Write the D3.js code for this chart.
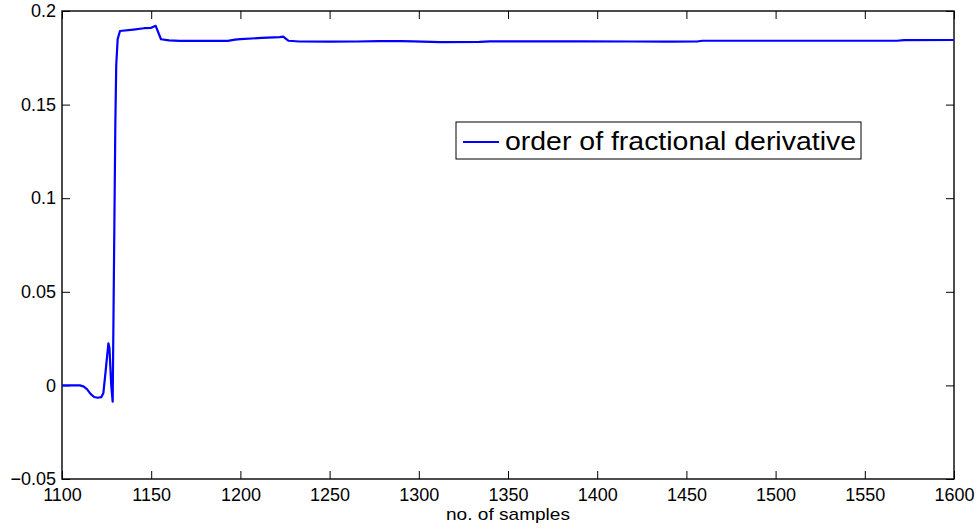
<!DOCTYPE html>
<html>
<head>
<meta charset="utf-8">
<script src="https://cdn.jsdelivr.net/npm/d3@7"></script>
<style>
  body { margin: 0; background: #fff; }
  svg text { font-family: "Liberation Sans", Arial, Helvetica, sans-serif; fill: #000; }
</style>
</head>
<body>
<div id="content"></div>
<script>
// sample index on the x axis, estimated order value on y
var samples = [1100, 1105, 1110, 1112, 1114, 1116, 1118, 1120, 1122, 1123.2, 1124.5, 1126.0, 1126.6, 1127.6, 1128.4,
  1129.9, 1130.4, 1131.2, 1132.5, 1140, 1146, 1150, 1152.5, 1155.5, 1160, 1166, 1193, 1197, 1200, 1212, 1222, 1224,
  1227, 1233, 1250, 1265, 1278, 1290, 1297, 1312, 1334, 1340, 1390, 1420, 1440, 1456, 1459, 1520, 1568, 1572, 1600];
var order = [0, 0, 0, -0.0005, -0.002, -0.0045, -0.0062, -0.0066, -0.0063, -0.004, 0.008, 0.0225, 0.02, 0.0, -0.0087,
  0.14, 0.171, 0.185, 0.1893, 0.1901, 0.1908, 0.1910, 0.1921, 0.1849, 0.1843, 0.1840, 0.1840, 0.1847, 0.1850, 0.1856, 0.1860, 0.1863,
  0.1841, 0.1837, 0.1836, 0.1837, 0.1839, 0.1839, 0.1838, 0.1834, 0.1835, 0.1838, 0.1838, 0.1837, 0.1836, 0.1837, 0.1841, 0.1841, 0.1841, 0.1844, 0.1845];

var xTicks = [1100, 1150, 1200, 1250, 1300, 1350, 1400, 1450, 1500, 1550, 1600];
var yTicks = [-0.05, 0, 0.05, 0.1, 0.15, 0.2];
var yTickLabels = ["\u22120.05", "0", "0.05", "0.1", "0.15", "0.2"];
var legendLabel = "order of fractional derivative";
var xLabel = "no. of samples";

var margin = {top: 11, right: 24, bottom: 51, left: 62};
var width = 978 - margin.left - margin.right;
var height = 530 - margin.top - margin.bottom;

var svg = d3.select("#content").append("svg")
  .attr("width", 978).attr("height", 530)
  .append("g")
  .attr("transform", "translate(" + margin.left + "," + margin.top + ")");

var x = d3.scaleLinear().domain([1100, 1600]).range([0, width]);
var y = d3.scaleLinear().domain([-0.05, 0.2]).range([height, 0]);

// axes, ticks pointing inward on all four sides
function styleAxis(g) {
  g.select(".domain").remove();
  g.selectAll(".tick line").attr("stroke", "#000").attr("stroke-width", 1);
  g.selectAll(".tick text").style("font-size", "18px");
}

svg.append("g")
  .attr("transform", "translate(0," + height + ")")
  .call(d3.axisBottom(x).tickValues(xTicks).tickSize(-8).tickPadding(9).tickFormat(d3.format("d")))
  .call(styleAxis);

svg.append("g")
  .call(d3.axisTop(x).tickValues(xTicks).tickSize(-8).tickFormat(""))
  .call(styleAxis);

svg.append("g")
  .call(d3.axisLeft(y).tickValues(yTicks).tickSize(-8).tickPadding(6)
    .tickFormat(function(d, i) { return yTickLabels[i]; }))
  .call(styleAxis);

svg.append("g")
  .attr("transform", "translate(" + width + ",0)")
  .call(d3.axisRight(y).tickValues(yTicks).tickSize(-8).tickFormat(""))
  .call(styleAxis);

svg.append("rect")
  .attr("x", 0).attr("y", 0)
  .attr("width", width).attr("height", height)
  .attr("fill", "none").attr("stroke", "#000").attr("stroke-width", 1.4);

// the series
var line = d3.line()
  .x(function(d, i) { return x(samples[i]); })
  .y(function(d) { return y(d); });

svg.append("path")
  .datum(order)
  .attr("d", line)
  .attr("fill", "none")
  .attr("stroke", "#0000ff")
  .attr("stroke-width", 2.2)
  .attr("stroke-linejoin", "round");

// x label
svg.append("text")
  .attr("x", width / 2).attr("y", height + 41)
  .attr("text-anchor", "middle")
  .attr("textLength", 124).attr("lengthAdjust", "spacingAndGlyphs")
  .style("font-size", "17px")
  .text(xLabel);

// legend
var legend = svg.append("g").attr("transform", "translate(" + (456 - margin.left) + "," + (122 - margin.top) + ")");
legend.append("rect")
  .attr("width", 405).attr("height", 37)
  .attr("fill", "#fff").attr("stroke", "#000").attr("stroke-width", 1);
legend.append("line")
  .attr("x1", 7).attr("x2", 43).attr("y1", 20).attr("y2", 20)
  .attr("stroke", "#0000ff").attr("stroke-width", 2.2);
legend.append("text")
  .attr("x", 49).attr("y", 28)
  .attr("textLength", 351).attr("lengthAdjust", "spacingAndGlyphs")
  .style("font-size", "26px")
  .text(legendLabel);
</script>
</body>
</html>
